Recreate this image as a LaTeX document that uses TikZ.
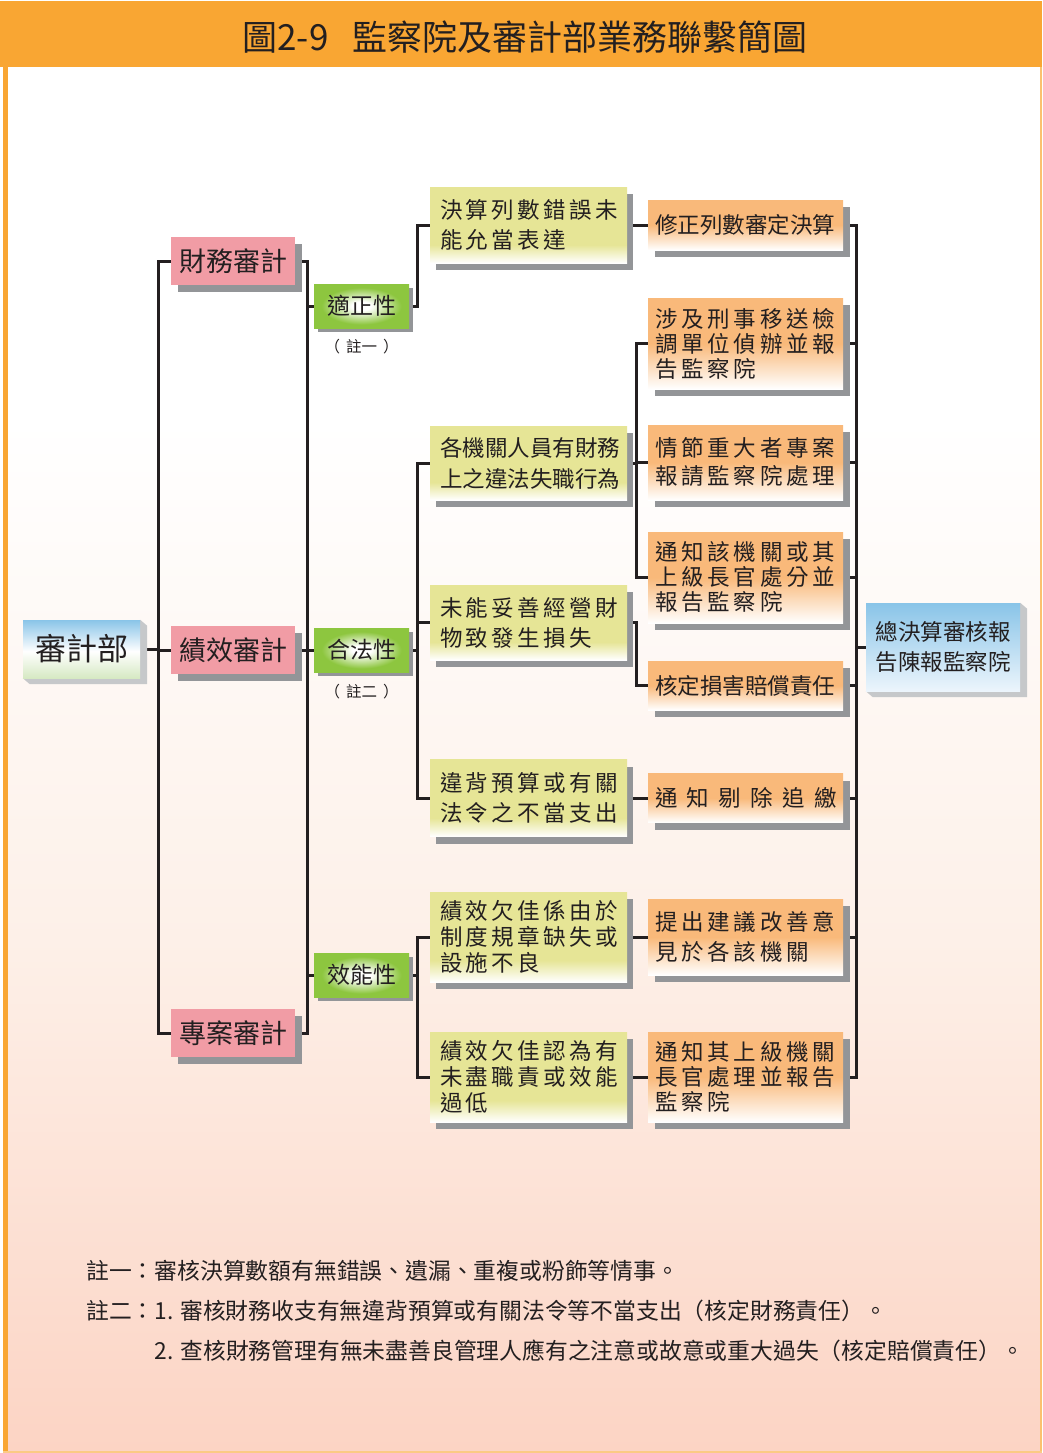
\documentclass[tikz,border=0pt]{standalone}
\usepackage{fontspec}
\setmainfont{Noto Sans CJK TC}[Script=CJK, Language=Chinese Traditional]
\usetikzlibrary{shadows,backgrounds}

\definecolor{headorange}{RGB}{249,166,51}
\definecolor{pagemid}{RGB}{253,240,232}
\definecolor{pagepeach}{RGB}{252,212,196}
\definecolor{auditpink}{RGB}{241,156,165}
\definecolor{propgreen}{RGB}{141,198,63}
\definecolor{causeyellow}{RGB}{230,229,150}
\definecolor{actorange}{RGB}{249,185,122}
\definecolor{rootblue}{RGB}{137,196,232}
\definecolor{rootpale}{RGB}{236,245,252}
\definecolor{rootgreen}{RGB}{214,233,195}
\definecolor{shadowgray}{RGB}{147,149,152}
\definecolor{bevelgray}{RGB}{198,200,202}
\definecolor{inkdark}{RGB}{35,31,32}

\pgfdeclareverticalshading{causefade}{100bp}{color(0bp)=(white); color(25bp)=(white); color(37bp)=(causeyellow); color(100bp)=(causeyellow)}
\pgfdeclareverticalshading{actfade}{100bp}{color(0bp)=(white); color(25bp)=(white); color(50bp)=(actorange); color(100bp)=(actorange)}
\pgfdeclareverticalshading{rootsplit}{100bp}{color(0bp)=(rootgreen); color(25bp)=(rootgreen); color(48bp)=(white); color(75bp)=(rootblue); color(100bp)=(rootblue)}
\pgfdeclareverticalshading{rootfade}{100bp}{color(0bp)=(rootpale); color(25bp)=(rootpale); color(75bp)=(rootblue); color(100bp)=(rootblue)}
\pgfdeclareradialshading{propglow}{\pgfpoint{0bp}{0bp}}{color(0bp)=(white); color(5bp)=(white); color(21bp)=(propgreen); color(50bp)=(propgreen)}

\begin{document}
\begin{tikzpicture}[x=1pt,y=-1pt]
			\tikzstyle{link}=[draw=inkdark, line width=3pt]
			\tikzstyle{card}=[rectangle, inner sep=0pt, text=inkdark]
			\tikzstyle{audit}=[card, fill=auditpink, minimum width=124pt, minimum height=48pt, font=\fontsize{27pt}{30pt}\selectfont, drop shadow={shadow xshift=7pt, shadow yshift=-7pt, fill=shadowgray, opacity=1}]
			\tikzstyle{prop}=[card, shade, shading=propglow, minimum width=95pt, minimum height=44pt, font=\fontsize{23pt}{26pt}\selectfont, drop shadow={shadow xshift=4pt, shadow yshift=-4pt, fill=shadowgray, opacity=1}]
			\tikzstyle{cause}=[card, shade, shading=causefade, minimum width=197pt, text width=177pt, inner xsep=10pt, align=left, font=\fontsize{22.5pt}{26pt}\selectfont\addfontfeature{LetterSpace=15}, drop shadow={shadow xshift=6pt, shadow yshift=-7pt, fill=shadowgray, opacity=1}]
			\tikzstyle{act}=[card, shade, shading=actfade, minimum width=195pt, text width=181pt, inner xsep=7pt, align=left, font=\fontsize{22.5pt}{25pt}\selectfont\addfontfeature{LetterSpace=17}, drop shadow={shadow xshift=7pt, shadow yshift=-7pt, fill=shadowgray, opacity=1}]
			\tikzstyle{root}=[card, shade]
			\tikzstyle{notemark}=[text=inkdark, font=\fontsize{15.5pt}{18pt}\selectfont]
			\tikzstyle{note}=[anchor=west, inner sep=0pt, text=inkdark, font=\fontsize{22.8pt}{27pt}\selectfont]
			\newcommand\Xroot{81.5}
			\newcommand\Xaudit{233}
			\newcommand\Xprop{361.5}
			\newcommand\Xcause{528.5}
			\newcommand\Xact{745.5}
			\newcommand\Xsum{943}

			\useasboundingbox (0,0) rectangle (1042,1453);

			% Page
			\begin{scope}[on background layer]
				\fill [white] (0,0) rectangle (1042,1453);
				\shade [top color=white, bottom color=pagemid] (8,420) rectangle (1040,940);
				\shade [top color=pagemid, bottom color=pagepeach] (8,940) rectangle (1040,1451);
				\fill [headorange] (0,1) rectangle (1042,67);
				\fill [headorange] (3,67) rectangle (8,1453);
				\fill [headorange!70] (1040,67) rectangle (1042,1453);
				\fill [headorange!60] (3,1451) rectangle (1042,1453);
			\end{scope}

			% Title
			\node [text=inkdark, font=\fontsize{35pt}{40pt}\selectfont] at (525,37) (title) {圖2-9\hspace{24pt}監察院及審計部業務聯繫簡圖};

			% Root
			\node [root, shading=rootsplit, minimum width=117pt, minimum height=58pt, font=\fontsize{31pt}{34pt}\selectfont] at (\Xroot,649) (sjb) {審計部};

			% Audits
			\node [audit] at (\Xaudit,261) (cwsj) {財務審計};
			\node [audit] at (\Xaudit,650) (jxsj) {績效審計};
			\node [audit] at (\Xaudit,1033) (zasj) {專案審計};

			% Properties
			\node [prop] at (\Xprop,306) (szx) {適正性};
			\node [prop] at (\Xprop,650) (hfx) {合法性};
			\node [prop] at (\Xprop,975) (xnx) {效能性};
			\node [notemark] at (\Xprop,347) (szxnote) {（\hspace{6pt}註一\hspace{6pt}）};
			\node [notemark] at (\Xprop,692) (hfxnote) {（\hspace{6pt}註二\hspace{6pt}）};

			% Causes
			\node [cause, minimum height=76pt] at (\Xcause,225) (jsls) {決算列數錯誤未\\[4pt]能允當表達};
			\node [cause, minimum height=74pt, font=\fontsize{22.5pt}{31pt}\selectfont] at (\Xcause,463) (gjg) {各機關人員有財務\\上之違法失職行為};
			\node [cause, minimum height=75pt] at (\Xcause,622.5) (wnts) {未能妥善經營財\\[4pt]物致發生損失};
			\node [cause, minimum height=77pt] at (\Xcause,798) (wbys) {違背預算或有關\\[4pt]法令之不當支出};
			\node [cause, minimum height=90pt] at (\Xcause,937) (jxqa) {績效欠佳係由於\\制度規章缺失或\\設施不良};
			\node [cause, minimum height=90pt] at (\Xcause,1077) (jxqb) {績效欠佳認為有\\未盡職責或效能\\過低};

			% Actions
			\node [act, minimum height=50pt, font=\fontsize{22.5pt}{25pt}\selectfont] at (\Xact,225) (xzls) {修正列數審定決算};
			\node [act, minimum height=91pt] at (\Xact,343.5) (sjxs) {涉及刑事移送檢\\調單位偵辦並報\\告監察院};
			\node [act, minimum height=75pt] at (\Xact,462.5) (qjzd) {情節重大者專案\\[3pt]報請監察院處理};
			\node [act, minimum height=91pt] at (\Xact,577.5) (tzgj) {通知該機關或其\\上級長官處分並\\報告監察院};
			\node [act, minimum height=49pt, font=\fontsize{22.5pt}{25pt}\selectfont] at (\Xact,685.5) (hdsh) {核定損害賠償責任};
			\node [act, minimum height=49pt, font=\fontsize{22.5pt}{25pt}\selectfont\addfontfeature{LetterSpace=42}] at (\Xact,798) (tztc) {通知剔除追繳};
			\node [act, minimum height=76pt] at (\Xact,937) (tcjy) {提出建議改善意\\[5pt]見於各該機關};
			\node [act, minimum height=90pt] at (\Xact,1077) (tzsj) {通知其上級機關\\長官處理並報告\\監察院};

			% Summary
			\node [root, shading=rootfade, minimum width=154pt, minimum height=88pt, align=center, font=\fontsize{22.5pt}{30pt}\selectfont] at (\Xsum,647) (zjs) {總決算審核報\\告陳報監察院};

			% Notes
			\node [note] at (86,1271) (noteone) {註一：審核決算數額有無錯誤、遺漏、重複或粉飾等情事。};
			\node [note] at (86,1311) (notetwo) {註二：1. 審核財務收支有無違背預算或有關法令等不當支出（核定財務責任）。};
			\node [note] at (154.5,1351) (notethree) {2. 查核財務管理有無未盡善良管理人應有之注意或故意或重大過失（核定賠償責任）。};

			% Links
			\begin{scope}[on background layer]
				\path [link] (sjb.east) -- ++(18,0) |- (cwsj.west);
				\path [link] (sjb.east) -- ++(18,0) |- (jxsj.west);
				\path [link] (sjb.east) -- ++(18,0) |- (zasj.west);

				\path [link] (cwsj.east) -- ++(12,0) |- (szx.west);
				\path [link] (cwsj.east) -- ++(12,0) |- (xnx.west);
				\path [link] (jxsj.east) -- ++(12,0) |- (hfx.west);
				\path [link] (zasj.east) -- ++(12,0) |- (xnx.west);

				\path [link] (szx.east) -- ++(8,0) |- (jsls.west);
				\path [link] (hfx.east) -- ++(8,0) |- (gjg.west);
				\path [link] (hfx.east) -- ++(8,0) |- (wnts.west);
				\path [link] (hfx.east) -- ++(8,0) |- (wbys.west);
				\path [link] (xnx.east) -- ++(8,0) |- (jxqa.west);
				\path [link] (xnx.east) -- ++(8,0) |- (jxqb.west);

				\path [link] (jsls.east) -- (xzls.west);
				\path [link] (gjg.east) -- ++(9,0) |- (sjxs.west);
				\path [link] (gjg.east) -- ++(9,0) |- (qjzd.west);
				\path [link] (gjg.east) -- ++(9,0) |- (tzgj.west);
				\path [link] (wnts.east) -- ++(9,0) |- (hdsh.west);
				\path [link] (wbys.east) -- (tztc.west);
				\path [link] (jxqa.east) -- (tcjy.west);
				\path [link] (jxqb.east) -- (tzsj.west);

				\foreach \act in {xzls,sjxs,qjzd,tzgj,hdsh,tztc,tcjy,tzsj}
					\path [link] (\act.east) -- ++(13,0) |- (zjs.west);

				% Bevels
				\fill [bevelgray] (sjb.north east) -- ++(7,6) -- ([shift={(7,6)}]sjb.south east) -- ([shift={(7,6)}]sjb.south west) -- (sjb.south west) -- cycle;
				\fill [bevelgray] (zjs.north east) -- ++(7,6) -- ([shift={(7,6)}]zjs.south east) -- ([shift={(7,6)}]zjs.south west) -- (zjs.south west) -- cycle;
			\end{scope}
		\end{tikzpicture}
\end{document}
